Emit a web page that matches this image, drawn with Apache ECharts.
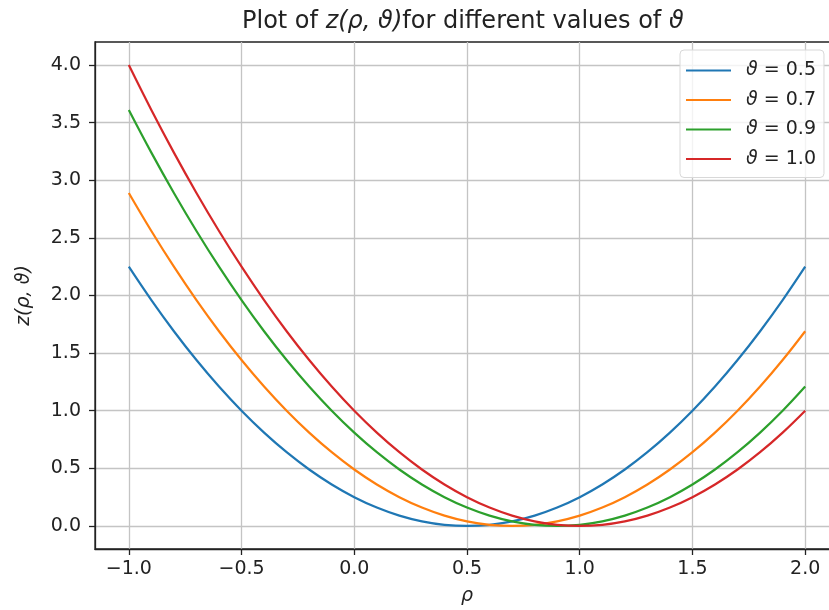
<!DOCTYPE html>
<html>
<head>
<meta charset="utf-8">
<script src="https://cdn.jsdelivr.net/npm/echarts@6/dist/echarts.min.js"></script>
<style>
html,body{margin:0;padding:0;background:#fff;}
#chart{width:829px;height:610px;}
</style>
</head>
<body>
<div id="chart"></div>
<script>
// rho sample positions (read along x axis)
const rho = [-1.0,-0.9,-0.8,-0.7,-0.6,-0.5,-0.4,-0.3,-0.2,-0.1,0.0,0.1,0.2,0.3,0.4,0.5,0.6,0.7,0.8,0.9,1.0,1.1,1.2,1.3,1.4,1.5,1.6,1.7,1.8,1.9,2.0];
// z values for each theta curve
const z05 = [2.25,1.96,1.69,1.44,1.21,1.00,0.81,0.64,0.49,0.36,0.25,0.16,0.09,0.04,0.01,0.00,0.01,0.04,0.09,0.16,0.25,0.36,0.49,0.64,0.81,1.00,1.21,1.44,1.69,1.96,2.25];
const z07 = [2.89,2.56,2.25,1.96,1.69,1.44,1.21,1.00,0.81,0.64,0.49,0.36,0.25,0.16,0.09,0.04,0.01,0.00,0.01,0.04,0.09,0.16,0.25,0.36,0.49,0.64,0.81,1.00,1.21,1.44,1.69];
const z09 = [3.61,3.24,2.89,2.56,2.25,1.96,1.69,1.44,1.21,1.00,0.81,0.64,0.49,0.36,0.25,0.16,0.09,0.04,0.01,0.00,0.01,0.04,0.09,0.16,0.25,0.36,0.49,0.64,0.81,1.00,1.21];
const z10 = [4.00,3.61,3.24,2.89,2.56,2.25,1.96,1.69,1.44,1.21,1.00,0.81,0.64,0.49,0.36,0.25,0.16,0.09,0.04,0.01,0.00,0.01,0.04,0.09,0.16,0.25,0.36,0.49,0.64,0.81,1.00];
const seriesNames = ['\u03d1 = 0.5','\u03d1 = 0.7','\u03d1 = 0.9','\u03d1 = 1.0'];
const seriesValues = [z05, z07, z09, z10];
const colors = ['#1f77b4','#ff7f0e','#2ca02c','#d62728'];
const xTicks = [-1.0,-0.5,0.0,0.5,1.0,1.5,2.0];
const yTicks = [0.0,0.5,1.0,1.5,2.0,2.5,3.0,3.5,4.0];

const FONT = 'DejaVu Sans';
const fmt = v => (v < 0 ? '\u2212' : '') + Math.abs(v).toFixed(1);

const chart = echarts.init(document.getElementById('chart'), null, {renderer:'canvas'});
chart.setOption({
  animation: false,
  backgroundColor: '#fff',
  title: {
    text: '{n|Plot of }{i|z(\u03c1, \u03d1)}{n|for different values of }{i|\u03d1}',
    left: 237, top: 5,
    textStyle: {
      fontWeight: 'normal',
      rich: {
        n: {fontFamily: FONT, fontWeight: 'normal', fontSize: 24, color: '#222'},
        i: {fontFamily: FONT, fontWeight: 'normal', fontStyle: 'italic', fontSize: 24, color: '#222'}
      }
    }
  },
  legend: {
    orient: 'vertical',
    left: 680, top: 50,
    data: seriesNames,
    icon: 'rect',
    itemWidth: 45, itemHeight: 2,
    itemGap: 10.5,
    padding: [11, 8, 9, 6],
    backgroundColor: 'rgba(255,255,255,0.8)',
    borderColor: '#d8d8d8', borderWidth: 1, borderRadius: 4,
    formatter: function (name) {
      return '{i|\u03d1}{n|' + name.slice(1) + '}';
    },
    textStyle: {
      padding: [0, 0, 0, 10],
      rich: {
        n: {fontFamily: FONT, fontSize: 19, color: '#222'},
        i: {fontFamily: FONT, fontStyle: 'italic', fontSize: 19, color: '#222'}
      }
    }
  },
  grid: {
    left: 95, top: 42, bottom: 61, width: 744,
    outerBoundsMode: 'none', containLabel: false,
    show: true, borderColor: '#222', borderWidth: 1.3, backgroundColor: 'transparent'
  },
  xAxis: {
    type: 'value', min: -1.15, max: 2.15,
    name: '\u03c1', nameLocation: 'middle', nameGap: 38,
    nameTextStyle: {fontFamily: FONT, fontStyle: 'italic', fontSize: 19, color: '#222'},
    axisLine: {onZero: false, lineStyle: {color: '#222', width: 1.3}},
    axisTick: {show: true, inside: false, length: 6, customValues: xTicks, lineStyle: {color: '#222', width: 1.3}},
    axisLabel: {customValues: xTicks, formatter: fmt, margin: 11, fontFamily: FONT, fontSize: 19, color: '#222'},
    splitLine: {show: true, lineStyle: {color: '#c4c4c4', width: 1.3}}
  },
  yAxis: {
    type: 'value', min: -0.2, max: 4.2,
    name: '{i|z(\u03c1, \u03d1)}', nameLocation: 'middle', nameGap: 61, nameRotate: 90,
    nameTextStyle: {rich: {i: {fontFamily: FONT, fontStyle: 'italic', fontSize: 19, color: '#222'}}},
    axisLine: {onZero: false, lineStyle: {color: '#222', width: 1.3}},
    axisTick: {show: true, inside: false, length: 6, customValues: yTicks, lineStyle: {color: '#222', width: 1.3}},
    axisLabel: {customValues: yTicks, formatter: fmt, margin: 14, fontFamily: FONT, fontSize: 19, color: '#222'},
    splitLine: {show: true, lineStyle: {color: '#c4c4c4', width: 1.3}}
  },
  series: seriesValues.map((vals, k) => ({
    name: seriesNames[k],
    type: 'line',
    data: rho.map((r, i) => [r, vals[i]]),
    smooth: 0.4,
    showSymbol: false,
    symbol: 'none',
    color: colors[k],
    lineStyle: {color: colors[k], width: 2.2},
    z: 3 + k
  }))
});
</script>
</body>
</html>
